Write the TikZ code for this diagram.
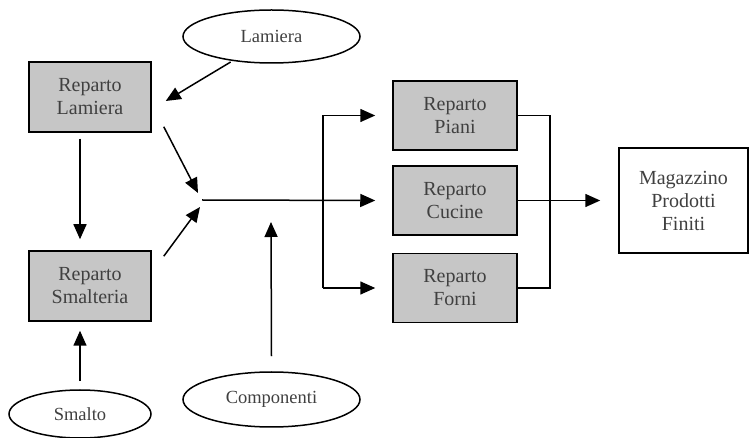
\documentclass[tikz,border=0pt]{standalone}
\usepackage{fontspec}
\setmainfont{Liberation Serif}
\usetikzlibrary{arrows.meta,shapes.geometric}
\tikzset{
  reparto/.style={draw,line width=1.5pt,fill=gray!45,minimum width=122pt,minimum height=70pt,
    align=center,text=black!75,font=\fontsize{20}{23}\selectfont},
  magaz/.style={reparto,fill=white,minimum width=129pt,minimum height=105pt},
  fonte/.style={draw,ellipse,line width=1.5pt,minimum width=177pt,minimum height=53pt,
    text=black!75,font=\fontsize{18.5}{21}\selectfont},
  arr/.style={-{Triangle[length=15pt,width=13pt]},line width=1.5pt},
  linea/.style={line width=1.5pt}
}
\begin{document}
\begin{tikzpicture}[x=1pt,y=-1pt]
  \useasboundingbox (0,0) rectangle (753,438);
  % reparti
  \node[reparto] (rl) at (90,97) {Reparto\\Lamiera};
  \node[reparto] (rs) at (90,286) {Reparto\\Smalteria};
  \node[reparto,minimum width=124pt,minimum height=69pt] (rp) at (455,115.5) {Reparto\\Piani};
  \node[reparto,minimum width=124pt,minimum height=69pt] (rc) at (455,200.5) {Reparto\\Cucine};
  \node[reparto,minimum width=124pt,minimum height=69pt] (rf) at (455,288) {Reparto\\Forni};
  \node[magaz] (mag) at (683.5,200.5) {Magazzino\\Prodotti\\Finiti};
  % materiali in ingresso
  \node[fonte] (lam) at (271.5,36.5) {Lamiera};
  \node[fonte,minimum width=142pt,minimum height=48pt] (sm) at (80,414) {Smalto};
  \node[fonte,minimum height=55pt] (comp) at (271.5,399.5) {Componenti};
  \coordinate (jn) at (202,200);
  \coordinate (split) at (323,200);
  \coordinate (merge) at (550,200);
  \coordinate (cin) at (271,222);
  % collegamenti
  \draw[arr,shorten <=2pt] (lam.212) -- ([xshift=14pt,yshift=-4pt]rl.east);
  \draw[arr] ([xshift=-10pt,yshift=-6pt]rl.south) -- ([xshift=-10pt,yshift=11pt]rs.north);
  \draw[arr] ([yshift=8pt]sm.north) -- ([xshift=-10pt,yshift=-9pt]rs.south);
  \draw[arr] ([xshift=12pt,yshift=6pt]rl.south east) -- ([xshift=-4pt,yshift=7pt]jn);
  \draw[arr] ([xshift=12pt,yshift=-6pt]rs.north east) -- ([xshift=-2pt,yshift=-7pt]jn);
  \draw[arr] ([yshift=15pt]comp.north) -- (cin);
  \draw[arr] (jn) -- ([xshift=-17pt]rc.west);
  \draw[arr] (split |- rp.west) -- ([xshift=-17pt]rp.west);
  \draw[arr] (split |- rf.west) -- ([xshift=-17pt]rf.west);
  \draw[linea] (split |- rp.west) -- (split |- rf.west);
  \draw[linea] (rp.east) -| (merge) |- (rf.east);
  \draw[arr] (rc.east) -- ([xshift=-18pt]mag.west);
\end{tikzpicture}
\end{document}
